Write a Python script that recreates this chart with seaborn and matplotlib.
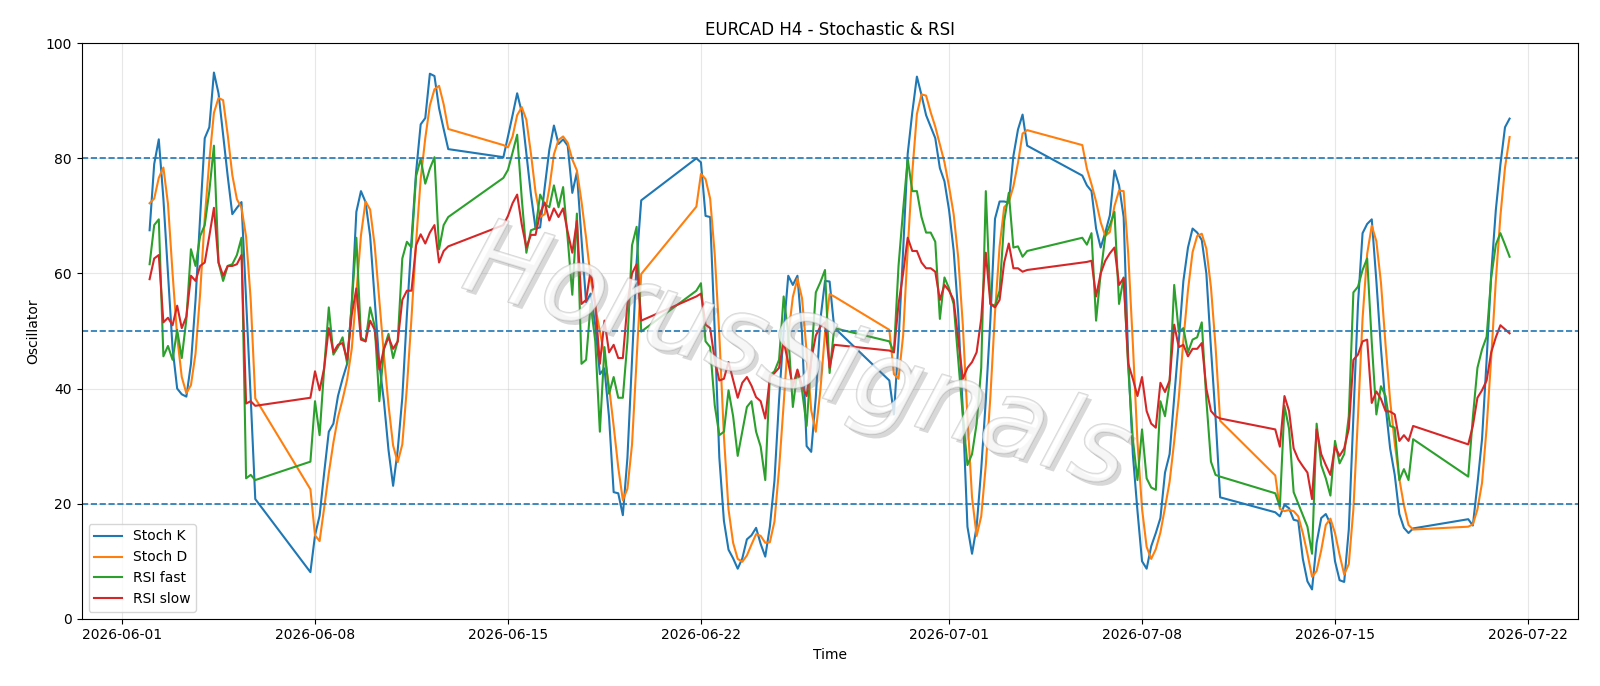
import pandas as pd
import seaborn as sns
import matplotlib
matplotlib.use('Agg')
import matplotlib.pyplot as plt
import matplotlib.patheffects as pe

# H4 bars, weekdays plus the Sunday 20:00 opening bar
times = pd.date_range('2026-06-02 00:00', '2026-07-21 08:00', freq='4h')
times = times[(times.dayofweek < 5) | ((times.dayofweek == 6) & (times.hour == 20))]

stoch_k = [
    67.5, 79.0, 83.3, 73.0, 60.0, 47.0, 40.0, 39.0, 38.6, 44.3, 55.4, 69.8, 83.5, 85.4, 94.9, 91.3,
    84.1, 76.9, 70.3, 71.4, 72.4, 55.5, 38.5, 20.8, 8.1,
    14.5, 17.9, 25.4, 32.5, 33.9, 38.7, 41.7, 44.3, 54.7, 70.7, 74.3, 72.4, 66.5, 55.4, 44.3, 37.8,
    29.3, 23.1, 29.3, 38.4, 52.8, 65.8, 77.6, 85.9, 87.0, 94.7, 94.3, 88.7, 85.1, 81.6, 80.2,
    83.8, 87.5, 91.3, 88.0, 80.8, 73.7, 67.8, 68.0, 75.0, 81.5, 85.7, 82.5, 83.3, 82.2, 74.0, 77.6,
    66.0, 55.0, 56.5, 51.0, 42.5, 43.5, 35.0, 22.0, 21.8, 18.0, 28.0, 45.0, 62.0, 72.7, 80.0,
    79.3, 70.0, 69.8, 50.0, 28.0, 17.0, 12.0, 10.5, 8.7, 10.5, 13.8, 14.5, 15.8, 13.0, 10.8, 16.0,
    24.0, 38.0, 50.0, 59.6, 58.0, 59.6, 49.5, 30.0, 29.0, 38.5, 52.0, 58.7, 58.6, 50.6, 41.4,
    35.5, 48.2, 63.9, 80.8, 88.0, 94.2, 91.0, 87.5, 85.5, 83.5, 78.3, 76.0, 71.0, 64.0, 53.0, 36.0,
    16.0, 11.3, 16.0, 26.0, 38.0, 52.0, 69.5, 72.5, 72.5, 72.3, 80.4, 85.0, 87.6, 82.2, 77.0,
    75.3, 74.3, 67.8, 64.5, 67.1, 70.1, 77.9, 75.3, 69.8, 45.0, 28.6, 18.8, 10.0, 8.7, 12.6, 14.9,
    17.5, 25.4, 28.6, 38.4, 48.2, 58.7, 64.5, 67.8, 67.1, 65.8, 60.0, 47.0, 35.0, 21.1, 18.5,
    17.8, 19.8, 19.2, 17.2, 17.0, 10.4, 6.5, 5.1, 13.2, 17.5, 18.2, 16.5, 10.0, 6.7, 6.4, 15.5,
    35.0, 54.7, 67.0, 68.6, 69.4, 58.7, 47.0, 37.0, 29.6, 25.0, 18.2, 15.8, 14.9, 15.7, 17.3,
    16.2, 23.4, 31.2, 45.0, 60.0, 71.0, 78.9, 85.4, 86.9,
]

stoch_d = [
    72.2, 73.0, 76.6, 78.4, 72.1, 60.0, 49.0, 42.0, 39.2, 40.6, 46.1, 56.5, 69.6, 79.6, 87.9, 90.5,
    90.1, 84.1, 77.1, 72.9, 71.4, 66.4, 55.5, 38.3, 22.5,
    14.5, 13.5, 19.3, 25.3, 30.6, 35.0, 38.1, 41.6, 46.9, 56.6, 66.6, 72.5, 71.1, 64.8, 55.4, 45.8,
    37.1, 30.1, 27.2, 30.3, 40.2, 52.3, 65.4, 76.4, 83.5, 89.2, 92.0, 92.6, 89.4, 85.1, 82.3,
    81.9, 83.8, 87.5, 88.9, 86.7, 80.8, 74.1, 69.8, 70.3, 74.8, 80.7, 83.2, 83.8, 82.7, 79.8, 77.9,
    72.5, 66.2, 59.2, 54.2, 50.0, 45.7, 40.3, 33.5, 26.3, 20.6, 22.6, 30.3, 45.0, 59.9, 71.6,
    77.3, 76.4, 73.0, 63.3, 49.3, 31.7, 19.0, 13.2, 10.4, 9.9, 11.0, 12.9, 14.7, 14.4, 13.2, 13.3,
    16.9, 26.0, 37.3, 49.2, 55.9, 59.1, 55.7, 46.4, 36.2, 32.5, 39.8, 49.7, 56.4, 56.0, 50.2,
    42.5, 41.7, 49.2, 64.3, 77.6, 87.7, 91.1, 90.9, 88.0, 85.5, 82.4, 79.3, 75.1, 70.3, 62.7, 51.0,
    35.0, 21.1, 14.4, 17.8, 26.7, 38.7, 53.2, 64.7, 71.5, 72.4, 75.1, 79.2, 84.3, 84.9, 82.3,
    78.2, 75.5, 72.5, 68.9, 66.5, 67.2, 71.7, 74.4, 74.3, 63.4, 47.8, 30.8, 19.1, 12.5, 10.4, 12.1,
    15.0, 19.3, 23.8, 30.8, 38.4, 48.4, 57.1, 63.7, 66.5, 66.9, 64.3, 57.6, 47.3, 34.4, 24.9,
    19.1, 18.7, 18.9, 18.7, 17.8, 14.9, 11.3, 7.3, 8.3, 11.9, 16.3, 17.4, 14.9, 11.1, 7.7, 9.5,
    19.0, 35.1, 52.2, 63.4, 68.3, 65.6, 58.4, 47.6, 37.9, 30.5, 24.3, 19.7, 16.3, 15.5, 16.0,
    16.4, 19.0, 23.6, 33.2, 45.4, 58.7, 70.0, 78.4, 83.7,
]

rsi_fast = [
    61.6, 68.4, 69.4, 45.6, 47.4, 45.0, 50.2, 45.3, 52.0, 64.2, 61.3, 66.5, 68.4, 74.3, 82.2, 61.9,
    58.7, 61.3, 61.6, 63.2, 66.2, 24.4, 25.0, 24.1, 27.3,
    37.8, 31.9, 43.6, 54.1, 45.9, 47.2, 48.9, 44.3, 54.7, 66.2, 48.9, 48.2, 54.1, 50.8, 37.8, 46.9,
    49.5, 45.3, 48.2, 62.6, 65.5, 64.5, 76.9, 79.9, 75.6, 78.2, 80.2, 64.2, 68.4, 69.8, 76.6,
    78.0, 81.0, 84.1, 73.0, 63.6, 67.5, 67.8, 73.7, 72.0, 71.5, 75.3, 71.5, 75.0, 66.0, 56.3, 70.4,
    44.3, 45.0, 54.7, 48.2, 32.5, 47.2, 39.1, 42.0, 38.4, 38.4, 48.2, 64.9, 68.1, 49.9, 57.0,
    58.3, 48.2, 47.2, 37.1, 31.9, 32.5, 39.7, 35.2, 28.3, 32.5, 36.8, 37.8, 32.5, 29.9, 24.1, 42.3,
    43.0, 45.0, 56.0, 49.5, 36.8, 43.0, 39.7, 33.5, 45.0, 56.7, 58.5, 60.6, 42.7, 50.5, 48.2,
    46.3, 61.3, 71.0, 79.9, 74.3, 74.3, 69.8, 67.1, 67.1, 65.5, 52.1, 59.3, 57.4, 54.7, 45.0, 35.2,
    26.7, 28.6, 33.9, 43.6, 74.3, 54.7, 54.4, 57.0, 69.1, 74.0, 64.5, 64.7, 62.9, 63.9, 66.2,
    65.0, 67.0, 51.8, 60.0, 66.5, 68.4, 70.7, 54.7, 59.3, 43.6, 31.2, 24.1, 32.9, 24.4, 22.8, 22.4,
    37.8, 35.2, 41.0, 58.0, 49.8, 50.5, 46.3, 48.5, 48.9, 51.5, 38.0, 27.3, 25.0, 24.7, 21.8,
    19.5, 37.0, 33.0, 22.0, 20.0, 18.0, 16.0, 11.3, 33.9, 26.7, 24.4, 21.4, 30.9, 27.0, 28.6, 35.2,
    56.7, 57.7, 60.6, 62.6, 48.0, 35.5, 40.4, 38.7, 33.5, 33.2, 24.1, 26.0, 24.1, 31.2, 24.7,
    35.0, 43.6, 46.8, 49.0, 59.3, 65.0, 67.0, 65.0, 62.9,
]

rsi_slow = [
    59.0, 62.6, 63.2, 51.5, 52.3, 51.0, 54.4, 50.5, 52.5, 59.6, 58.7, 61.3, 61.9, 66.5, 71.4, 61.9,
    59.6, 61.3, 61.3, 61.6, 63.2, 37.4, 37.8, 37.0, 38.4,
    43.0, 39.7, 43.6, 50.5, 46.3, 47.6, 47.9, 45.0, 52.8, 57.4, 48.5, 48.2, 51.8, 50.2, 43.3, 46.9,
    48.9, 46.9, 48.2, 55.4, 57.0, 57.0, 64.9, 66.8, 65.2, 67.1, 68.4, 61.9, 63.9, 64.7, 68.4,
    70.0, 72.2, 73.7, 68.5, 64.5, 66.7, 66.7, 70.5, 72.3, 69.2, 71.3, 69.8, 71.3, 67.2, 63.6, 69.1,
    54.7, 55.4, 60.6, 54.7, 44.3, 51.8, 46.3, 47.6, 45.3, 45.3, 54.7, 60.0, 61.6, 51.8, 56.0,
    56.5, 51.1, 50.5, 45.0, 41.4, 41.7, 44.6, 41.5, 38.4, 41.0, 42.0, 40.5, 38.5, 37.8, 34.8, 42.0,
    42.7, 43.6, 48.2, 44.5, 40.4, 43.3, 40.5, 38.7, 45.0, 49.2, 50.8, 51.5, 43.6, 47.6, 46.6,
    46.3, 54.7, 60.0, 66.2, 63.9, 63.9, 61.9, 60.9, 60.9, 60.3, 55.4, 58.0, 57.0, 55.4, 48.5, 41.7,
    43.6, 44.6, 46.3, 52.1, 63.6, 54.7, 54.1, 55.4, 61.9, 65.2, 60.9, 60.9, 60.3, 60.6, 61.9,
    62.0, 62.2, 56.0, 60.0, 62.2, 63.5, 64.5, 58.0, 59.2, 44.3, 41.7, 38.7, 42.0, 36.1, 33.9, 33.2,
    41.0, 39.4, 41.4, 51.1, 47.2, 47.6, 45.6, 46.9, 46.9, 47.9, 40.0, 36.1, 35.2, 34.8, 32.9,
    29.9, 38.7, 36.1, 29.6, 27.7, 26.5, 25.4, 20.8, 32.9, 28.6, 26.7, 25.0, 29.9, 28.3, 29.6, 33.0,
    45.0, 45.9, 48.2, 48.5, 37.5, 39.5, 38.2, 36.1, 36.0, 35.5, 30.9, 31.9, 30.9, 33.5, 30.3,
    33.5, 38.4, 39.7, 41.4, 46.3, 48.9, 51.0, 50.3, 49.6,
]

for name, vals in [('k', stoch_k), ('d', stoch_d), ('fast', rsi_fast), ('slow', rsi_slow)]:
    if len(vals) != len(times):
        raise SystemExit(f'{name}: {len(vals)} values for {len(times)} bars')

fig, ax = plt.subplots(figsize=(16, 6.86), dpi=100)

series = [('Stoch K', stoch_k, 'C0'), ('Stoch D', stoch_d, 'C1'),
          ('RSI fast', rsi_fast, 'C2'), ('RSI slow', rsi_slow, 'C3')]
for label, vals, col in series:
    sns.lineplot(x=times, y=vals, ax=ax, label=label, color=col, linewidth=1.5)

for lvl in (80, 50, 20):
    ax.axhline(lvl, linestyle='--', linewidth=1.2, color='C0')

ax.set_ylim(0, 100)
ax.grid(True, alpha=0.3)
ax.set_title('EURCAD H4 - Stochastic & RSI')
ax.set_xlabel('Time')
ax.set_ylabel('Oscillator')
ax.legend(loc='lower left')

# watermark: pale fill, grey outline, soft shadow
ax.text(0.478, 0.45, 'HorusSignals', transform=ax.transAxes, fontsize=76, style='italic',
        rotation=-17, ha='center', va='center', color='white', alpha=0.42, zorder=10,
        path_effects=[pe.withSimplePatchShadow(offset=(3, -3), shadow_rgbFace='#808080', alpha=0.3),
                      pe.Stroke(linewidth=1.2, foreground='#a0a0a0'), pe.Normal()])

plt.subplots_adjust(left=0.051, right=0.986, top=0.937, bottom=0.098)
plt.savefig('out.png', dpi=100)
